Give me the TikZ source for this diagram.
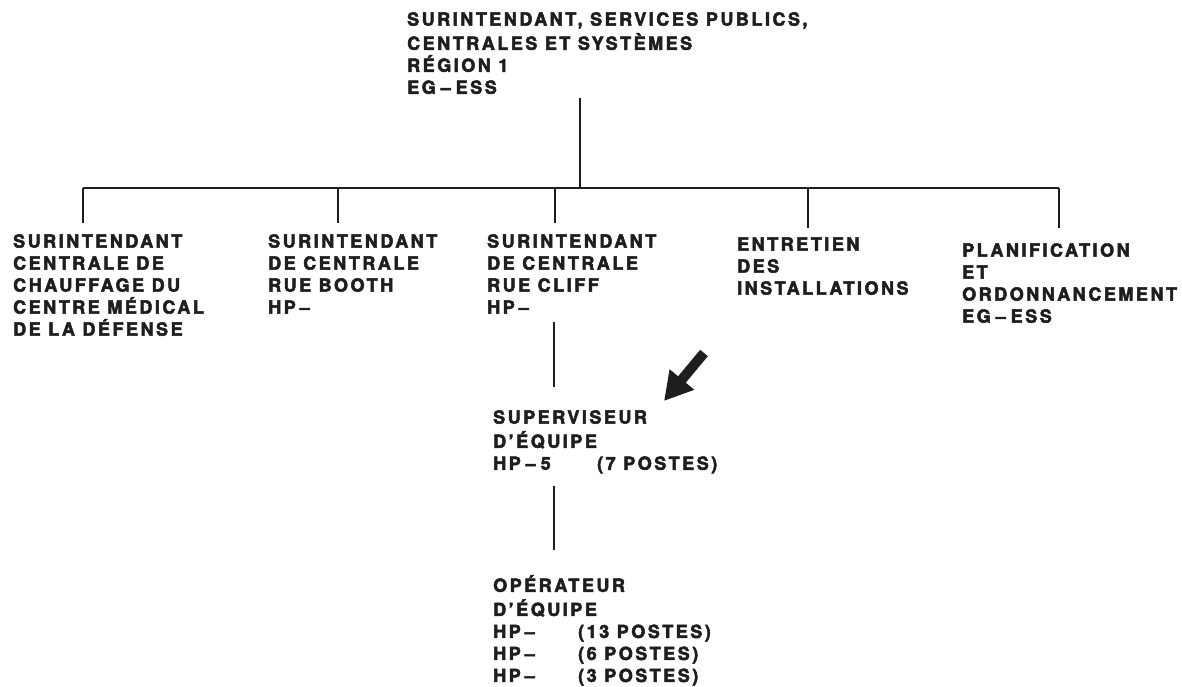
\documentclass[tikz,border=0pt]{standalone}
\usepackage{fontspec}
\setmainfont{TeX Gyre Heros}[LetterSpace=14]
\usetikzlibrary{arrows.meta}
\definecolor{ink}{HTML}{1E1E1E}
\newcommand\heavytext{\special{pdf:literal direct 0.5 w 2 Tr}}
\newcommand\orgfont{\fontsize{18}{22}\selectfont\bfseries\heavytext}
\newcommand\dsh{\hspace{5pt}–\hspace{5pt}}
\newcommand\hpd{HP\hspace{4pt}–}
\begin{document}
\begin{tikzpicture}[x=1pt,y=-1pt,
  blk/.style={anchor=north west, align=left, inner sep=0pt, font=\orgfont, text=ink},
  conn/.style={line width=1.7pt, draw=ink},
  pointer/.style={line width=10pt, draw=ink, -{Triangle[length=28pt,width=30pt]}}]
\useasboundingbox (0,0) rectangle (1182,687);
\fill[white] (0,0) rectangle (1182,687);

\node[blk] (top) at (407,10) {\strut SURINTENDANT, SERVICES PUBLICS,\\CENTRALES ET SYSTÈMES\\RÉGION 1\\EG\dsh ESS};

\node[blk] (c1) at (13,232) {\strut SURINTENDANT\\CENTRALE DE\\CHAUFFAGE DU\\CENTRE MÉDICAL\\DE LA DÉFENSE};
\node[blk] (c2) at (268,232) {\strut SURINTENDANT\\DE CENTRALE\\RUE BOOTH\\\hpd};
\node[blk] (c3) at (487,232) {\strut SURINTENDANT\\DE CENTRALE\\RUE CLIFF\\\hpd};
\node[blk] (c4) at (737,235) {\strut ENTRETIEN\\DES\\INSTALLATIONS};
\node[blk] (c5) at (962,241) {\strut PLANIFICATION\\ET\\ORDONNANCEMENT\\EG\dsh ESS};

\node[blk] (sup) at (493,408) {\strut SUPERVISEUR\\D’ÉQUIPE\\\makebox[104pt][l]{HP\dsh 5}(7 POSTES)};
\node[blk] (op) at (493,575) {\strut OPÉRATEUR\\D’ÉQUIPE\\\makebox[85pt][l]{\hpd}(13 POSTES)\\\makebox[85pt][l]{\hpd}(6 POSTES)\\\makebox[85pt][l]{\hpd}(3 POSTES)};

\coordinate (hub) at (580,188);
\coordinate (b1) at (83,188);
\coordinate (b2) at (338,188);
\coordinate (b3) at (555,188);
\coordinate (b4) at (808,188);
\coordinate (b5) at (1059,188);
\coordinate (topend) at (580,98);
\coordinate (cliffline) at (554,322);

\draw[conn] (topend) -- (hub);
\draw[conn] (b1) -- (b5);
\draw[conn] (b1) -- ([yshift=9pt]b1 |- c1.north);
\draw[conn] (b2) -- ([yshift=9pt]b2 |- c2.north);
\draw[conn] (b3) -- ([yshift=9pt]b3 |- c3.north);
\draw[conn] (b4) -- ([yshift=7pt]b4 |- c4.north);
\draw[conn] (b5) -- ([yshift=13pt]b5 |- c5.north);

\draw[conn] (cliffline) -- ([yshift=21pt]cliffline |- sup.north);
\draw[conn] ([yshift=-12pt]cliffline |- sup.south) -- ([yshift=25pt]cliffline |- op.north);

\coordinate (arrtail) at (704,353);
\coordinate (arrtip) at (664,401);
\draw[pointer] (arrtail) -- (arrtip);
\end{tikzpicture}
\end{document}
